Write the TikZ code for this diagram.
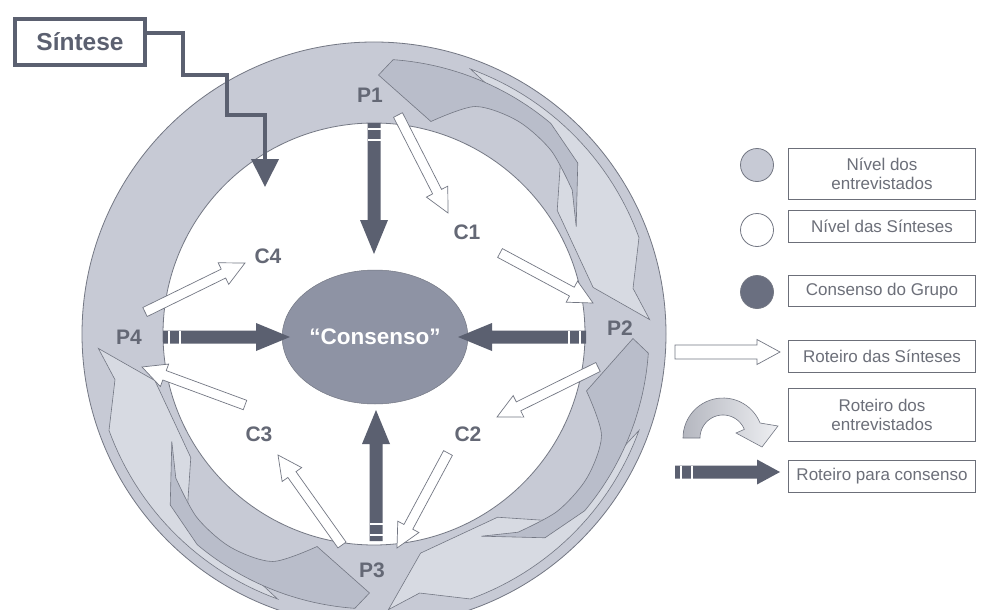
\documentclass[tikz,border=0pt]{standalone}
\usepackage{fontspec}
\setmainfont{Liberation Sans}
\usetikzlibrary{calc,arrows.meta,shapes.geometric}
\definecolor{ringc}{HTML}{C7CAD5}
\definecolor{leafc}{HTML}{B9BDCA}
\definecolor{bandc}{HTML}{D7DAE2}
\definecolor{darkc}{HTML}{5B6070}
\definecolor{consc}{HTML}{8E93A4}
\definecolor{linec}{HTML}{737783}
\definecolor{txtc}{HTML}{646875}
\definecolor{legtxt}{HTML}{6C6F79}
\definecolor{legdark}{HTML}{6A6F80}

% block arrow: [style]{from}{to}{shaft half width}{head half width}{head length}
\newcommand{\blockarrow}[6][]{%
  \coordinate (baH) at ($(#3)!#6!(#2)$);
  \path[#1] ($(#2)!#4!90:(#3)$) -- ($(baH)!#4!90:(#3)$) -- ($(baH)!#5!90:(#3)$) -- (#3)
    -- ($(baH)!#5!-90:(#3)$) -- ($(baH)!#4!-90:(#3)$) -- ($(#2)!#4!-90:(#3)$) -- cycle;
}
% white stripes near the tail of a dark arrow
\newcommand{\tailstripes}[3]{%
  \foreach \dd in {6,17}{%
    \coordinate (stS) at ($(#1)!\dd pt!(#2)$);
    \draw[white, line width=2pt] ($(stS)!#3!90:(#2)$) -- ($(stS)!#3!-90:(#2)$);
  }%
}

\begin{document}
\begin{tikzpicture}[x=1pt,y=-1pt,
  plabel/.style={font=\bfseries\fontsize{21}{21}\selectfont, text=txtc, inner sep=0pt},
  legbox/.style={draw=legtxt, line width=1.1pt, minimum width=187pt, align=center,
     font=\fontsize{17}{19.5}\selectfont, text=legtxt, inner sep=0pt},
  legdot/.style={circle, draw=linec, line width=0.8pt, minimum size=33pt, inner sep=0pt},
  warrow/.style={fill=white, draw=linec, line width=0.7pt, line join=miter},
  darrow/.style={fill=darkc},
  outl/.style={draw=linec, line width=0.6pt}]
\useasboundingbox (0,0) rectangle (985,610);
\clip (0,0) rectangle (985,610);
\fill[white] (0,0) rectangle (985,610);

% ring
\coordinate (C) at (374,334);
\filldraw[fill=ringc, outl, line width=0.8pt] (C) circle[radius=292];
\begin{scope}[shift={(C)}]
\foreach \bb in {-90,0,90}{
  \pgfmathsetmacro\bs{\bb+20}\pgfmathsetmacro\be{\bb+70}
  \filldraw[fill=bandc, outl] plot[domain=\bs:\be, samples=30] (\x:282)
     -- (\bb+80:263) -- (\bb+87:276) -- (\bb+78:224) -- (\bb+56:221) -- (\bb+46:260) -- cycle;
  \pgfmathsetmacro\ds{\bb+4}\pgfmathsetmacro\de{\bb+40}
  \filldraw[fill=leafc, outl] (\bb+1:259) -- plot[domain=\ds:\de, samples=30] (\x:275)
     -- (\bb+50:266) -- (\bb+62:229)
     -- plot[smooth] coordinates {(\bb+54:245) (\bb+44:255) (\bb+34:257) (\bb+24:249) (\bb+15:220)} -- cycle;
}
\end{scope}
\filldraw[fill=white, outl, line width=0.8pt] (C) circle[radius=211];

% consensus
\node[ellipse, fill=consc, draw=linec, line width=0.5pt, minimum width=155pt, minimum height=134pt,
  inner sep=0pt, text=white, font=\bfseries\fontsize{22.5}{22.5}\selectfont] (cons) at (375,337) {“Consenso”};

% labels
\node[plabel] (p1) at (370,95) {P1};
\node[plabel] (c1) at (467,232) {C1};
\node[plabel] (p2) at (620,328) {P2};
\node[plabel] (c2) at (468,434) {C2};
\node[plabel] (p3) at (372,570) {P3};
\node[plabel] (c3) at (259,434) {C3};
\node[plabel] (p4) at (129,337) {P4};
\node[plabel] (c4) at (268,256) {C4};

% dark arrows to consensus
\coordinate (p1a) at (374,123); \coordinate (p1b) at (374,254);
\coordinate (p2a) at (586,337); \coordinate (p2b) at (458,337);
\coordinate (p3a) at (376,541); \coordinate (p3b) at (376,410);
\coordinate (p4a) at (163,337); \coordinate (p4b) at (290,337);
\foreach \s/\t in {p1a/p1b,p2a/p2b,p3a/p3b,p4a/p4b}{
  \blockarrow[darrow]{\s}{\t}{6.5pt}{14pt}{34pt}
  \tailstripes{\s}{\t}{6.5pt}
}

% white arrows (synthesis route)
\coordinate (w1a) at (398,115); \coordinate (w1b) at (448,213);
\coordinate (w2a) at (500,253); \coordinate (w2b) at (593,303);
\coordinate (w3a) at (598,367); \coordinate (w3b) at (497,417);
\coordinate (w4a) at (448,453); \coordinate (w4b) at (397,548);
\coordinate (w5a) at (342,545); \coordinate (w5b) at (278,455);
\coordinate (w6a) at (245,405); \coordinate (w6b) at (142,367);
\coordinate (w7a) at (145,312); \coordinate (w7b) at (245,263);
\foreach \s/\t in {w1a/w1b,w2a/w2b,w3a/w3b,w4a/w4b,w5a/w5b,w6a/w6b,w7a/w7b}{
  \blockarrow[warrow]{\s}{\t}{5pt}{12pt}{24pt}
}

% Sintese
\node[draw=darkc, line width=4pt, minimum width=130pt, minimum height=46pt, inner sep=0pt,
  font=\bfseries\fontsize{24.5}{24.5}\selectfont, text=darkc] (sint) at (80,42) {Síntese};
\coordinate (sintip) at (265,187);
\draw[darkc, line width=4pt, line join=miter, -{Triangle[length=28pt,width=27pt]}]
  ($(sint.east)+(0,-9)$) -- (183,33) -- (183,75) -- (227,75) -- (227,115) -- (265,115) -- (sintip);

% legend
\node[legdot, fill=ringc] (d1) at (757,165) {};
\node[legdot, fill=white] (d2) at (757,230) {};
\node[legdot, fill=legdark] (d3) at (757,292) {};
\node[legbox, minimum height=51pt] (b1) at (882,174) {Nível dos\\entrevistados};
\node[legbox, minimum height=32pt] (b2) at (882,226.5) {Nível das Sínteses};
\node[legbox, minimum height=31pt] (b3) at (882,291) {Consenso do Grupo};
\node[legbox, minimum height=32pt] (b4) at (882,356.5) {Roteiro das Sínteses};
\node[legbox, minimum height=53pt] (b5) at (882,415) {Roteiro dos\\entrevistados};
\node[legbox, minimum height=32pt] (b6) at (882,476.5) {Roteiro para consenso};

\coordinate (lw1) at (675,352); \coordinate (lw2) at (780,352);
\blockarrow[warrow]{lw1}{lw2}{7pt}{12.5pt}{23pt}
\coordinate (ld1) at (675,472); \coordinate (ld2) at (780,472);
\blockarrow[darrow]{ld1}{ld2}{6.5pt}{12.5pt}{23pt}
\tailstripes{ld1}{ld2}{6.5pt}

\begin{scope}[shift={(723,438)}]
\shade[left color=legdark!50, right color=ringc!30, draw=linec, line width=0.6pt]
  plot[domain=180:338, samples=30] (\x:40) -- (55,-12) -- (39,9) -- (13,-5)
  -- plot[domain=338:180, samples=30] (\x:23) -- cycle;
\end{scope}
\end{tikzpicture}
\end{document}
